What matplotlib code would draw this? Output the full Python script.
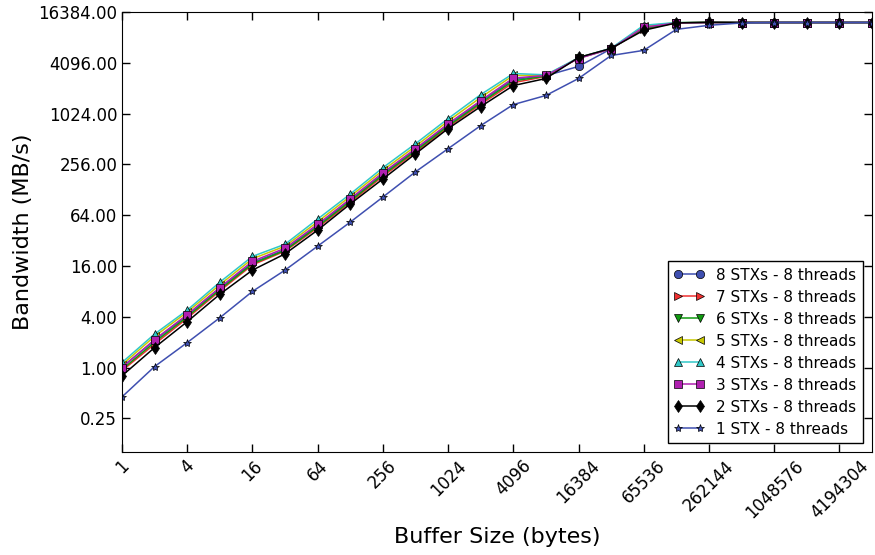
import numpy as np
import matplotlib
matplotlib.use('Agg')
import matplotlib.pyplot as plt

# buffer sizes: 1 .. 8 MB, every power of two
buffer_sizes = [2 ** k for k in range(24)]

# bandwidth in MB/s
bw_8stx = [1.02, 2.1, 4.15, 8.7, 17.5, 25.0, 48.5, 97, 198, 382, 755, 1420,
           2600, 2880, 3710, 6000, 10600, 12200, 12300, 12300, 12300, 12300, 12300, 12300]
bw_7stx = [0.92, 1.9, 3.85, 8.1, 16.5, 24.0, 45.5, 91, 185, 358, 710, 1320,
           2380, 2820, 4700, 6050, 10300, 12200, 12300, 12300, 12300, 12300, 12300, 12300]
bw_6stx = [0.95, 2.0, 4.0, 8.4, 17.0, 24.5, 47.0, 94, 192, 370, 730, 1370,
           2500, 2850, 4650, 6000, 10500, 12200, 12300, 12300, 12300, 12300, 12300, 12300]
bw_5stx = [1.08, 2.35, 4.55, 9.6, 19.5, 27.5, 53.5, 107, 218, 420, 835, 1590,
           2900, 2920, 4650, 6050, 11100, 12250, 12300, 12300, 12300, 12300, 12300, 12300]
bw_4stx = [1.15, 2.5, 4.8, 10.3, 20.8, 29.0, 57.6, 114, 234, 450, 893, 1720,
           3060, 2950, 4700, 6100, 11400, 12300, 12300, 12300, 12300, 12300, 12300, 12300]
bw_3stx = [1.0, 2.15, 4.25, 8.9, 18.2, 26.0, 50.0, 100, 204, 393, 776, 1460,
           2700, 2900, 4600, 6000, 10800, 12150, 12250, 12300, 12300, 12300, 12300, 12300]
bw_2stx = [0.8, 1.73, 3.5, 7.4, 14.3, 22.3, 42.6, 87, 172, 342, 680, 1240,
           2200, 2670, 4740, 6070, 9950, 12150, 12400, 12300, 12300, 12300, 12300, 12300]
bw_1stx = [0.45, 1.03, 1.98, 3.9, 8.0, 14.3, 27.5, 53, 105, 209, 393, 738,
           1310, 1680, 2670, 5000, 5750, 10200, 11400, 12150, 12300, 12300, 12300, 12300]

series = [bw_8stx, bw_7stx, bw_6stx, bw_5stx, bw_4stx, bw_3stx, bw_2stx, bw_1stx]
labels = ['8 STXs - 8 threads', '7 STXs - 8 threads', '6 STXs - 8 threads',
          '5 STXs - 8 threads', '4 STXs - 8 threads', '3 STXs - 8 threads',
          '2 STXs - 8 threads', '1 STX - 8 threads']
colors = ['#3f4fb0', '#f03030', '#109a10', '#c8c800', '#30c8c8', '#b020b0', '#000000', '#3f4fb0']
markers = ['o', '>', 'v', '<', '^', 's', 'd', '*']

xticks = [4 ** k for k in range(12)]
yticks = [0.25, 1, 4, 16, 64, 256, 1024, 4096, 16384]


def main():
    fig = plt.figure(figsize=(8.75, 5.55), dpi=100)
    ax = fig.add_axes([122 / 875, 103 / 555, 750 / 875, 440 / 555])

    # draw back to front so 8 STXs ends up under the rest
    for i in range(len(series)):
        ax.plot(buffer_sizes, series[i], color=colors[i], marker=markers[i],
                markersize=6, markeredgecolor='black', markeredgewidth=0.5,
                linewidth=1.1, label=labels[i])

    ax.set_xscale('log', base=2)
    ax.set_yscale('log', base=2)
    ax.set_xlim(1, 2 ** 23)
    ax.set_ylim(0.1, 16384)
    ax.set_xticks(xticks)
    ax.set_xticklabels([str(v) for v in xticks], rotation=45, fontsize=12)
    ax.set_yticks(yticks)
    ax.set_yticklabels(['%.2f' % v for v in yticks], fontsize=12)
    ax.minorticks_off()
    ax.tick_params(direction='in', top=True, right=True, length=6, width=1)

    ax.set_xlabel('Buffer Size (bytes)', fontsize=16)
    ax.set_ylabel('Bandwidth (MB/s)', fontsize=16)

    ax.legend(loc='lower right', numpoints=2, fontsize=11, fancybox=False,
              edgecolor='black', framealpha=1, handlelength=2.0,
              borderpad=0.4, labelspacing=0.46, handletextpad=0.8,
              borderaxespad=0.6)

    fig.savefig('out.png', dpi=100)


if __name__ == "__main__":
    main()
